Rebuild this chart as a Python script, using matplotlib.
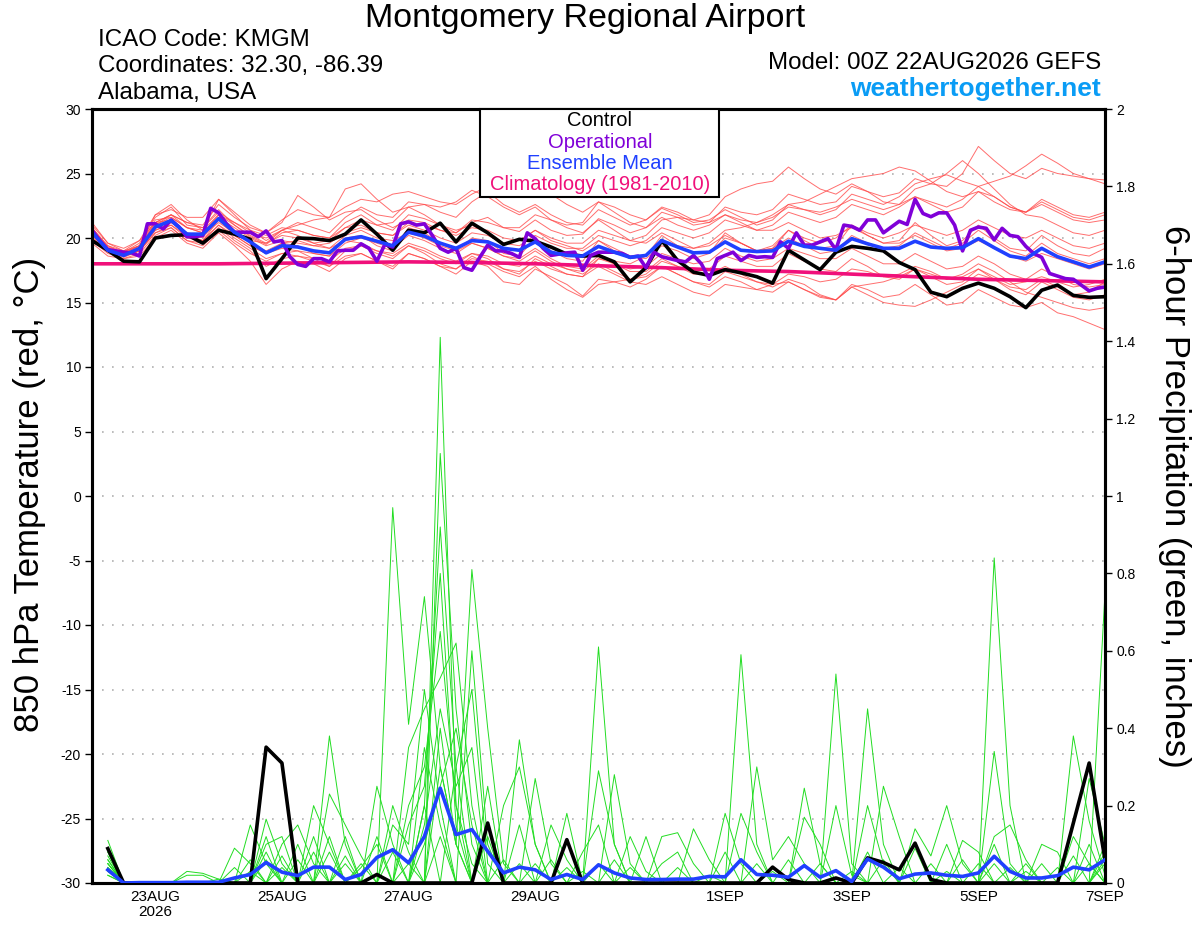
import numpy as np
import matplotlib
matplotlib.use("Agg")
import matplotlib.pyplot as plt
from matplotlib.patches import Rectangle

plt.rcParams['font.family'] = ['Liberation Sans', 'DejaVu Sans']
plt.rcParams['axes.unicode_minus'] = False

# time axis: days after 22AUG2026 00Z, 6-hourly (operational is 3-hourly)
tick_days = [1, 3, 5, 7, 10, 12, 14, 16]
tick_labels = ["23AUG\n2026", "25AUG", "27AUG", "29AUG", "1SEP", "3SEP", "5SEP", "7SEP"]

# 850 hPa temperature, 6-hourly, i = 0..64
control_temp = [19.8, 19.05, 18.2, 18.15, 20.0, 20.2, 20.25, 19.6, 20.6, 20.3, 19.9, 16.85, 18.4,
                20.0, 19.95, 19.8, 20.3, 21.4, 20.3, 19.05, 20.6, 20.4, 21.15, 19.7, 21.15, 20.4,
                19.5, 19.9, 19.75, 19.3, 18.75, 18.6, 18.65, 18.15, 16.6, 17.7, 19.8, 18.25, 17.35,
                17.1, 17.55, 17.3, 17.0, 16.5, 19.05, 18.3, 17.55, 18.9, 19.35, 19.2, 19.0, 18.1,
                17.55, 15.8, 15.45, 16.1, 16.5, 16.1, 15.45, 14.6, 15.95, 16.35, 15.55, 15.4, 15.45]

mean_temp = [20.45, 19.05, 18.65, 19.2, 20.85, 21.35, 20.3, 20.3, 21.5, 20.45, 19.7, 18.85, 19.4,
             19.3, 19.0, 18.85, 19.9, 20.1, 19.75, 19.4, 20.45, 20.15, 19.6, 19.2, 19.8, 19.7,
             19.2, 19.05, 19.7, 18.9, 18.65, 18.6, 19.35, 18.9, 18.5, 18.65, 19.8, 19.3, 18.85,
             18.9, 19.7, 19.05, 18.95, 19.0, 19.75, 19.35, 19.2, 19.05, 19.95, 19.55, 19.2, 19.2,
             19.75, 19.3, 19.2, 19.25, 19.95, 19.25, 18.6, 18.4, 19.2, 18.55, 18.15, 17.75, 18.15]

# operational, 3-hourly, j = 0..128
oper_temp = [20.6, 19.8, 19.1, 19.0, 18.9, 18.85, 18.6, 21.1, 21.1, 20.7,
             21.4, 20.85, 20.1, 20.1, 20.2, 22.3, 21.95, 21.1, 20.45, 20.45,
             20.45, 20.1, 20.55, 19.7, 19.8, 18.55, 17.95, 17.8, 18.4, 18.4,
             18.15, 19.0, 19.05, 19.05, 19.55, 19.2, 18.2, 19.5, 19.3, 21.1,
             21.25, 21.0, 21.1, 20.2, 19.2, 18.9, 19.2, 17.7, 17.5, 18.5,
             19.45, 19.0, 19.0, 18.8, 18.5, 20.4, 19.95, 19.2, 18.65, 18.75,
             18.85, 18.9, 17.5, 18.65, 18.9, 18.9, 18.9, 18.8, 18.5, 18.6,
             17.7, 18.9, 18.55, 18.4, 18.25, 18.15, 18.65, 18.0, 16.8, 18.4,
             18.65, 18.9, 18.25, 18.65, 18.5, 18.55, 18.5, 19.7, 19.2, 20.4,
             19.45, 19.45, 19.7, 19.95, 19.1, 21.0, 20.9, 20.6, 21.4, 21.4,
             20.4, 20.85, 21.3, 21.05, 23.0, 21.9, 21.65, 21.95, 21.95, 21.0,
             19.0, 20.6, 20.85, 20.75, 19.85, 20.75, 20.2, 20.1, 19.35, 18.8,
             18.5, 17.25, 17.05, 16.85, 16.8, 16.35, 15.9, 16.1, 16.2]

# climatology (1981-2010), daily values, day 0..16
clim_temp = [18.0, 18.0, 18.0, 18.05, 18.1, 18.15, 18.1, 18.0, 17.85, 17.7, 17.5, 17.4,
             17.2, 17.0, 16.8, 16.7, 16.6]

# ensemble members, 850 hPa temperature, i = 0..64
member_temp = [
    [20.8, 19.3, 18.9, 19.6, 21.6, 22.4, 21.0, 20.8, 22.2, 21.0, 20.1, 19.5, 20.4, 20.6, 20.2, 20.0,
     21.2, 21.8, 21.0, 20.6, 21.8, 21.5, 21.0, 20.4, 21.2, 21.6, 20.8, 20.5, 21.4, 20.6, 20.2, 20.3,
     21.5, 21.0, 20.4, 20.8, 22.0, 21.6, 21.0, 21.2, 22.4, 22.0, 21.8, 22.2, 23.4, 23.0, 22.6, 22.8,
     24.0, 23.6, 23.2, 23.5, 24.6, 24.2, 24.0, 25.0, 27.1, 26.0, 25.0, 24.6, 25.4, 25.0, 24.8, 24.6, 24.5],
    [21.2, 19.6, 19.0, 19.8, 21.2, 21.8, 21.2, 21.0, 22.6, 21.6, 20.8, 20.4, 21.4, 22.2, 21.8, 21.6,
     23.8, 24.2, 23.0, 22.0, 22.4, 21.8, 21.0, 20.6, 21.0, 20.4, 19.6, 19.8, 20.6, 19.8, 19.4, 19.0,
     19.8, 19.2, 18.6, 18.4, 19.4, 19.0, 18.4, 18.8, 20.0, 19.6, 19.0, 19.4, 20.6, 20.0, 19.6, 20.0,
     21.0, 20.4, 20.0, 20.4, 21.0, 20.6, 20.2, 20.6, 21.4, 20.8, 20.2, 20.0, 20.6, 20.0, 19.4, 19.2, 19.6],
    [19.8, 18.8, 18.4, 18.6, 20.0, 20.6, 19.6, 19.2, 20.4, 19.4, 18.2, 16.4, 17.6, 18.2, 18.0, 17.4,
     18.4, 18.8, 18.2, 17.6, 18.8, 18.4, 17.8, 17.2, 18.2, 17.8, 16.6, 16.4, 17.6, 17.0, 16.4, 15.5,
     16.8, 16.6, 16.2, 16.8, 17.8, 17.2, 16.6, 16.4, 17.4, 17.0, 16.6, 16.2, 16.8, 16.4, 15.6, 15.2,
     16.4, 16.0, 15.4, 15.6, 16.4, 15.6, 14.8, 15.0, 16.0, 15.4, 14.8, 14.6, 15.0, 14.2, 13.9, 13.4, 12.9],
    [20.2, 19.2, 18.8, 19.4, 21.8, 22.6, 21.4, 20.6, 23.0, 21.8, 20.6, 19.8, 20.6, 21.2, 20.8, 20.4,
     21.6, 22.4, 21.8, 21.6, 22.8, 22.6, 22.0, 21.6, 22.8, 23.6, 22.6, 22.0, 22.6, 21.8, 21.2, 21.0,
     22.2, 21.6, 21.0, 21.4, 22.4, 22.0, 21.4, 21.8, 23.2, 23.8, 24.2, 24.4, 25.5, 24.6, 23.8, 23.4,
     24.2, 23.6, 22.8, 22.6, 23.2, 22.6, 22.0, 22.4, 23.6, 23.2, 22.4, 22.0, 22.6, 22.0, 21.4, 21.2, 21.4],
    [20.0, 18.9, 18.5, 19.0, 20.4, 20.8, 19.8, 19.6, 20.8, 19.8, 19.0, 17.8, 18.4, 18.6, 18.2, 17.8,
     19.0, 19.4, 18.8, 18.4, 19.4, 18.8, 18.0, 17.6, 18.6, 18.0, 17.4, 17.0, 17.8, 16.8, 16.0, 15.4,
     16.4, 16.6, 16.8, 17.2, 18.2, 17.8, 17.4, 17.6, 18.6, 18.2, 17.8, 17.8, 18.8, 18.2, 17.6, 17.4,
     18.4, 17.8, 17.0, 16.8, 17.6, 17.0, 16.4, 16.6, 17.6, 16.8, 16.0, 15.6, 16.6, 16.0, 15.4, 15.2, 15.6],
    [20.6, 19.4, 19.0, 19.4, 21.0, 21.6, 20.8, 20.6, 21.8, 21.0, 20.2, 19.6, 20.2, 20.0, 19.6, 19.8,
     20.8, 21.4, 21.0, 21.2, 22.4, 22.6, 22.4, 22.8, 23.7, 23.2, 22.4, 21.8, 22.4, 21.4, 20.8, 20.4,
     21.4, 20.6, 19.8, 19.6, 20.4, 19.8, 19.2, 19.4, 20.2, 19.6, 19.0, 19.2, 20.0, 19.4, 18.8, 19.0,
     20.2, 19.6, 19.2, 19.4, 20.4, 19.8, 19.2, 19.6, 20.6, 19.8, 19.0, 18.6, 19.6, 18.8, 18.4, 18.0, 18.4],
    [20.4, 19.0, 18.6, 19.0, 20.6, 21.2, 20.4, 20.2, 21.2, 20.4, 19.8, 19.6, 20.6, 21.0, 21.4, 21.6,
     22.4, 23.0, 22.8, 23.4, 23.6, 23.2, 22.8, 22.6, 23.4, 24.0, 24.3, 23.6, 24.2, 23.4, 22.6, 22.0,
     22.8, 22.0, 21.2, 20.8, 21.6, 21.0, 20.6, 21.0, 21.8, 21.4, 21.2, 21.8, 22.6, 22.8, 23.4, 24.0,
     24.6, 24.8, 25.0, 25.5, 25.2, 24.4, 23.6, 23.2, 23.6, 22.8, 22.2, 22.0, 22.8, 22.2, 21.6, 21.4, 21.8],
    [20.2, 19.0, 18.6, 19.0, 20.6, 21.0, 20.0, 19.8, 21.0, 20.0, 19.2, 18.4, 18.8, 18.6, 18.4, 18.2,
     19.2, 19.4, 19.0, 18.8, 19.6, 19.2, 18.6, 18.2, 18.8, 18.6, 18.0, 17.8, 18.6, 18.0, 17.6, 17.4,
     18.4, 18.0, 17.6, 17.8, 18.8, 18.4, 18.0, 18.2, 19.2, 18.6, 18.2, 18.4, 19.2, 18.8, 18.4, 18.4,
     19.2, 18.6, 18.0, 18.0, 18.8, 18.2, 17.6, 17.8, 18.6, 18.0, 17.2, 16.8, 17.6, 17.0, 16.4, 16.2, 16.4],
    [20.6, 19.2, 18.8, 19.2, 21.2, 21.8, 20.8, 20.4, 21.6, 20.8, 20.0, 19.4, 19.8, 19.6, 19.4, 19.6,
     20.4, 20.8, 20.4, 20.2, 21.0, 20.6, 20.0, 19.6, 20.4, 20.2, 19.6, 19.4, 20.2, 19.6, 19.2, 19.2,
     20.2, 19.8, 19.4, 19.8, 20.8, 20.4, 20.0, 20.4, 21.4, 21.0, 20.6, 21.0, 22.0, 21.6, 21.2, 21.6,
     22.6, 22.2, 21.8, 22.4, 23.2, 22.8, 22.4, 23.0, 24.0, 24.4, 24.8, 25.6, 26.5, 25.8, 25.0, 24.6, 24.2],
    [19.6, 18.6, 18.4, 18.8, 20.2, 20.8, 19.8, 19.4, 20.6, 19.6, 18.8, 18.2, 18.8, 19.0, 18.8, 18.6,
     19.6, 20.0, 19.6, 19.2, 20.2, 19.8, 19.2, 18.8, 19.6, 19.2, 18.6, 18.2, 19.0, 18.2, 17.6, 17.2,
     18.0, 17.4, 16.8, 17.0, 17.8, 17.2, 16.6, 16.2, 17.0, 16.6, 16.0, 15.8, 16.6, 16.0, 15.4, 15.2,
     16.2, 15.6, 15.0, 14.8, 14.7, 15.2, 15.8, 16.4, 17.2, 16.8, 16.2, 16.0, 16.8, 16.2, 15.6, 15.8, 16.6],
    [20.4, 19.2, 18.9, 19.4, 21.2, 21.4, 20.2, 19.8, 21.4, 20.2, 19.4, 18.8, 19.6, 19.4, 18.8, 18.6,
     20.0, 20.2, 19.4, 19.0, 20.8, 20.4, 19.6, 19.0, 20.0, 19.8, 18.8, 18.6, 20.0, 19.0, 18.4, 18.2,
     19.8, 19.0, 18.4, 18.6, 20.2, 19.4, 18.8, 18.8, 20.4, 19.6, 19.0, 19.2, 20.6, 19.8, 19.2, 19.4,
     21.0, 20.2, 19.6, 19.8, 21.2, 20.2, 19.4, 19.8, 21.0, 20.0, 19.2, 19.0, 20.2, 19.4, 18.8, 18.6, 19.2],
    [20.0, 19.0, 18.7, 19.2, 21.0, 21.8, 21.2, 20.8, 22.0, 21.2, 20.4, 20.0, 20.6, 20.2, 19.6, 19.2,
     19.8, 19.6, 19.0, 18.6, 19.4, 19.0, 18.4, 18.0, 18.8, 18.4, 17.6, 17.2, 18.4, 17.8, 17.2, 17.0,
     18.4, 18.2, 18.0, 18.6, 19.6, 19.4, 19.2, 19.6, 20.6, 20.8, 21.2, 21.6, 22.4, 22.2, 22.0, 22.4,
     23.0, 22.6, 22.2, 22.6, 23.8, 24.2, 25.0, 26.0, 25.0, 23.8, 22.6, 21.8, 21.6, 21.0, 20.4, 20.2, 20.6],
    [20.2, 19.0, 18.6, 19.0, 20.4, 21.0, 20.2, 19.8, 21.0, 20.2, 19.4, 18.8, 19.2, 19.0, 18.4, 17.8,
     18.6, 18.8, 18.2, 17.8, 18.8, 18.4, 17.8, 17.6, 18.4, 18.2, 17.6, 17.4, 18.2, 17.6, 17.2, 17.0,
     17.8, 17.2, 16.6, 16.4, 17.0, 16.4, 15.8, 15.5, 16.4, 16.2, 16.0, 16.4, 17.2, 17.0, 16.6, 16.8,
     17.6, 17.4, 17.0, 17.2, 17.8, 17.4, 16.8, 17.0, 17.6, 17.0, 16.4, 16.6, 17.0, 16.6, 16.2, 16.4, 16.8],
    [21.0, 19.6, 19.2, 19.8, 21.8, 22.2, 21.6, 21.6, 23.0, 22.0, 21.0, 20.4, 21.2, 23.3, 22.4, 21.4,
     22.0, 22.2, 21.4, 20.8, 21.4, 21.2, 20.6, 20.2, 20.8, 20.6, 20.0, 19.8, 20.6, 20.0, 19.6, 19.6,
     20.6, 20.2, 19.8, 20.2, 21.4, 21.6, 21.4, 21.2, 21.8, 21.2, 20.6, 20.6, 21.2, 20.6, 20.0, 20.2,
     20.8, 20.2, 19.6, 19.6, 20.2, 19.6, 19.0, 19.2, 19.8, 19.2, 18.6, 18.2, 18.8, 18.4, 18.0, 17.6, 18.0],
    [20.4, 19.1, 18.7, 19.1, 20.8, 21.2, 20.4, 20.0, 21.6, 20.6, 19.6, 19.0, 19.6, 19.8, 19.4, 19.2,
     20.2, 20.6, 20.0, 19.8, 20.4, 20.0, 19.4, 19.0, 19.6, 19.2, 18.6, 18.4, 19.2, 18.4, 17.8, 17.6,
     18.6, 18.0, 17.4, 17.4, 18.4, 17.8, 17.2, 17.2, 17.8, 17.2, 16.6, 16.4, 16.6, 16.0, 15.5, 15.2,
     16.2, 16.4, 16.6, 17.0, 17.6, 17.2, 16.8, 17.2, 18.0, 17.4, 16.6, 15.8, 15.4, 15.0, 14.6, 14.4, 14.6],
    [20.8, 19.4, 18.8, 19.4, 21.4, 21.6, 20.8, 20.4, 21.8, 21.2, 20.6, 20.2, 20.8, 20.6, 20.2, 20.0,
     20.8, 21.0, 20.4, 20.2, 21.2, 21.0, 20.6, 20.4, 21.4, 21.2, 20.8, 20.8, 21.8, 21.4, 21.0, 21.2,
     22.8, 22.4, 21.8, 21.4, 22.3, 21.8, 21.2, 21.4, 22.2, 21.6, 21.0, 21.4, 22.6, 22.2, 21.8, 22.2,
     23.4, 23.0, 22.6, 23.2, 24.2, 24.6, 24.9, 24.4, 24.0, 23.2, 22.4, 22.0, 23.0, 22.4, 21.8, 21.6, 22.0],
]

# 6-hour precipitation (inches), i = 1..64
control_precip = [0.089, 0, 0, 0, 0, 0, 0, 0, 0, 0, 0.351, 0.31, 0, 0, 0, 0,
                  0, 0.022, 0, 0, 0, 0, 0, 0, 0.155, 0, 0, 0, 0, 0.112, 0, 0,
                  0, 0, 0, 0, 0, 0, 0, 0, 0, 0, 0.041, 0.009, 0, 0, 0.013, 0,
                  0.065, 0.053, 0.034, 0.103, 0.009, 0, 0, 0, 0, 0, 0, 0, 0, 0.155, 0.31, 0.06]

mean_precip = [0.034, 0, 0.001, 0.001, 0.001, 0.002, 0.002, 0.002, 0.013, 0.022, 0.053, 0.028,
               0.019, 0.041, 0.041, 0.009, 0.022, 0.066, 0.086, 0.052, 0.12, 0.245, 0.125, 0.138,
               0.082, 0.026, 0.041, 0.034, 0.009, 0.022, 0.009, 0.047, 0.026, 0.013, 0.009, 0.009,
               0.010, 0.010, 0.017, 0.016, 0.060, 0.022, 0.020, 0.015, 0.045, 0.015, 0.032, 0.004,
               0.062, 0.041, 0.011, 0.023, 0.026, 0.020, 0.017, 0.026, 0.069, 0.030, 0.013, 0.013,
               0.019, 0.041, 0.034, 0.060]

member_precip = [
    [.05, 0, 0, 0, 0, 0, 0, 0, 0, 0, .12, 0, 0, 0, .38, .1, 0, 0, .97, .41, .74, .3, .1, 0,
     0, 0, .37, .1, 0, 0, 0, .05, 0, 0, 0, 0, 0, 0, 0, 0, .59, .1, 0, 0, 0, 0, 0, 0,
     0, 0, 0, 0, 0, 0, 0, 0, .84, .2, 0, 0, 0, 0, 0, .1],
    [.11, 0, 0, 0, 0, 0, 0, 0, 0, .15, .05, 0, 0, 0, 0, 0, 0, 0, 0, 0, 0, 1.41, .2, .05,
     0, 0, 0, 0, 0, .18, 0, .61, .1, 0, 0, 0, 0, 0, 0, 0, 0, 0, 0, 0, .245, .05, 0, 0,
     0, 0, 0, 0, 0, 0, 0, 0, 0, 0, 0, 0, 0, .38, .16, .02],
    [.08, 0, 0, 0, 0, 0, 0, 0, 0, 0, 0, .1, .15, .05, 0, 0, 0, .25, .1, 0, 0, 1.11, .45, .1,
     0, 0, 0, .27, .05, 0, 0, 0, 0, 0, 0, 0, 0, 0, 0, 0, 0, 0, 0, 0, 0, 0, .54, .05,
     0, 0, 0, 0, 0, 0, 0, 0, 0, 0, 0, 0, 0, 0, 0, .75],
    [.03, 0, 0, 0, 0, 0, 0, 0, .09, .05, 0, 0, 0, .2, .1, 0, 0, 0, 0, 0, .2, .92, .3, 0,
     .25, 0, 0, 0, 0, 0, 0, 0, .28, .05, 0, 0, 0, 0, 0, 0, 0, 0, 0, 0, 0, 0, 0, 0,
     .45, .1, 0, 0, 0, 0, 0, 0, 0, 0, 0, 0, 0, 0, .05, 0],
    [.06, 0, 0, 0, 0, .03, .025, .01, 0, 0, .165, .05, 0, 0, 0, 0, 0, 0, 0, .35, .45, .53, .62, .2,
     0, 0, 0, 0, 0, 0, 0, .29, .1, 0, 0, 0, 0, 0, 0, .18, .05, 0, 0, 0, 0, 0, 0, 0,
     0, 0, 0, 0, 0, 0, 0, 0, .34, .05, 0, 0, 0, 0, 0, 0],
    [.02, 0, 0, 0, 0, 0, 0, 0, 0, 0, 0, 0, 0, 0, .23, .15, .07, 0, 0, 0, 0, .3, .1, .81,
     .4, .05, 0, 0, 0, 0, 0, 0, 0, 0, 0, .12, .13, .05, 0, 0, 0, 0, 0, 0, 0, 0, 0, 0,
     0, 0, 0, .14, .07, .2, .05, 0, 0, 0, 0, 0, 0, 0, 0, 0],
    [.04, 0, 0, 0, 0, 0, 0, 0, 0, 0, 0, 0, .06, 0, 0, .05, 0, 0, .15, .1, .5, .2, 0, 0,
     0, .2, .3, .1, 0, 0, 0, 0, 0, .12, .03, 0, 0, 0, 0, 0, 0, .3, .06, .12, .05, 0, 0, 0,
     0, 0, 0, 0, 0, 0, 0, 0, 0, 0, 0, .1, .08, 0, 0, 0],
    [.07, 0, 0, 0, 0, .02, .02, 0, 0, 0, .1, .12, 0, 0, 0, 0, 0, .12, 0, 0, .15, .45, .25, .35,
     0, 0, 0, 0, .15, .06, 0, 0, 0, 0, 0, 0, 0, .14, .06, 0, 0, 0, 0, 0, 0, 0, 0, 0,
     0, .25, .12, 0, 0, 0, 0, 0, .12, .15, .06, 0, 0, 0, 0, 0],
    [.05, 0, 0, 0, 0, 0, 0, 0, 0, .06, 0, 0, 0, .08, 0, 0, .05, 0, 0, .2, .3, .65, .2, 0,
     0, 0, 0, 0, 0, 0, .08, .15, 0, 0, 0, 0, 0, 0, 0, 0, .18, .08, 0, 0, 0, 0, .2, .02,
     0, 0, 0, 0, 0, 0, .11, .08, 0, 0, 0, 0, 0, 0, .27, .1],
    [.03, 0, 0, 0, 0, 0, 0, 0, 0, 0, 0, .07, 0, 0, 0, .12, 0, 0, 0, 0, .1, .25, .4, .15,
     0, 0, 0, 0, 0, 0, 0, 0, .06, 0, .12, 0, 0, 0, 0, 0, 0, 0, 0, 0, .17, .1, 0, 0,
     .2, .05, 0, 0, 0, .1, 0, 0, 0, 0, 0, 0, 0, .12, .05, 0],
    [.09, 0, 0, 0, 0, 0, 0, 0, .04, 0, 0, 0, .1, 0, .08, 0, 0, 0, .2, .08, 0, 0, 0, 0,
     .12, 0, .15, 0, 0, 0, 0, 0, 0, 0, 0, .05, .08, 0, 0, 0, 0, 0, .03, 0, 0, 0, 0, 0,
     0, 0, 0, .09, 0, 0, 0, 0, .1, 0, 0, 0, .04, 0, 0, .05],
    [.05, 0, 0, 0, 0, 0, 0, 0, 0, 0, .08, 0, 0, .12, 0, 0, 0, 0, 0, .15, .25, .8, .15, 0,
     0, .06, 0, 0, 0, .04, 0, 0, 0, 0, 0, 0, 0, 0, 0, .08, 0, 0, 0, 0, 0, 0, 0, 0,
     0, 0, .04, 0, 0, 0, 0, .05, 0, 0, .03, 0, 0, 0, 0, .06],
    [.04, 0, 0, 0, 0, 0, 0, 0, 0, .03, 0, 0, 0, 0, 0, 0, .04, .1, 0, 0, 0, .12, 0, .6,
     .1, 0, 0, .05, 0, 0, 0, 0, 0, .04, 0, 0, 0, 0, 0, 0, 0, 0, 0, .06, 0, 0, 0, 0,
     0, 0, 0, 0, .05, 0, 0, 0, 0, .04, 0, 0, 0, .07, 0, 0],
    [.06, 0, 0, 0, 0, 0, 0, .01, 0, 0, 0, .04, 0, 0, 0, 0, 0, 0, .08, 0, .35, .15, 0, 0,
     0, 0, .05, 0, 0, 0, 0, 0, 0, 0, 0, 0, 0, 0, .02, 0, 0, 0, 0, 0, 0, .05, 0, .03,
     0, 0, 0, 0, 0, 0, .06, 0, 0, 0, 0, .05, 0, 0, 0, 0],
    [.02, 0, 0, 0, 0, 0, 0, 0, 0, 0, .06, 0, 0, 0, .12, 0, 0, 0, 0, .05, 0, .4, .1, 0,
     0, 0, 0, 0, 0, 0, .03, 0, 0, 0, 0, 0, .04, 0, 0, 0, 0, 0, 0, 0, 0, 0, 0, 0,
     .08, 0, 0, 0, 0, .03, 0, 0, 0, 0, .05, 0, 0, 0, .1, 0],
    [.08, 0, 0, 0, 0, 0, 0, 0, 0, 0, 0, 0, 0, 0, 0, .07, 0, 0, 0, 0, .2, 0, .3, .5,
     .05, 0, 0, 0, .06, 0, 0, 0, 0, 0, 0, 0, 0, 0, 0, 0, 0, .05, 0, 0, 0, 0, 0, 0,
     0, .06, 0, 0, 0, 0, 0, 0, .05, 0, 0, 0, 0, 0, 0, .08],
]

t6 = np.arange(len(control_temp)) * 0.25
t3 = np.arange(len(oper_temp)) * 0.125
tday = np.arange(len(clim_temp))
tp = np.arange(1, len(control_precip) + 1) * 0.25

fig = plt.figure(figsize=(12, 9.27), dpi=100)
ax = fig.add_axes([92 / 1200, 44 / 927, 1013 / 1200, 774 / 927])
ax2 = ax.twinx()

for grid_y in range(-25, 30, 5):
    ax.axhline(grid_y, color='#b0b0b0', lw=1.2, ls=(0, (1, 5)), zorder=0)

for m in member_temp:
    ax.plot(t6, m, color='#ff4a4a', lw=0.7, alpha=0.8, zorder=1)
ax.plot(tday, clim_temp, color='#f0107a', lw=2.6, zorder=2)
ax.plot(t6, control_temp, color='black', lw=2.6, zorder=3)
ax.plot(t3, oper_temp, color='#8000d8', lw=2.6, zorder=4)
ax.plot(t6, mean_temp, color='#2040ff', lw=2.6, zorder=5)

for m in member_precip:
    ax2.plot(tp, m, color='#22dd22', lw=0.7, zorder=1)
ax2.plot(tp, control_precip, color='black', lw=2.6, zorder=3)
ax2.plot(tp, mean_precip, color='#2040ff', lw=2.6, zorder=5)

ax.set_xlim(0, 16)
ax.set_ylim(-30, 30)
ax2.set_ylim(0, 2)
ax.set_yticks(range(-30, 31, 5))
ax2.set_yticks(np.arange(0, 2.01, 0.2))
ax2.set_yticklabels([f"{v:g}" for v in np.arange(0, 2.01, 0.2)])
ax.set_xticks(tick_days)
ax.set_xticklabels(tick_labels, fontsize=11, linespacing=1.1)
ax.tick_params(axis='x', length=0, pad=5)
ax.tick_params(axis='y', labelsize=10, length=5, width=1, direction='out', pad=3)
ax2.tick_params(axis='y', labelsize=10, length=5, width=1, direction='out', pad=3)
for a in (ax, ax2):
    for s in a.spines.values():
        s.set_linewidth(2.2)

fig.text(30 / 1200, 1 - 494 / 927, "850 hPa Temperature (red, °C)", rotation=90,
         ha='center', va='center', fontsize=25)
fig.text(1174 / 1200, 1 - 496 / 927, "6-hour Precipitation (green, inches)", rotation=270,
         ha='center', va='center', fontsize=25)

fig.text(585 / 1200, 1 - 18 / 927, "Montgomery Regional Airport", ha='center', va='center',
         fontsize=24.5)
fig.text(98 / 1200, 1 - 40 / 927, "ICAO Code: KMGM", ha='left', va='center', fontsize=17.4)
fig.text(98 / 1200, 1 - 66 / 927, "Coordinates: 32.30, -86.39", ha='left', va='center', fontsize=17.4)
fig.text(98 / 1200, 1 - 93 / 927, "Alabama, USA", ha='left', va='center', fontsize=17.4)
fig.text(1101 / 1200, 1 - 63 / 927, "Model: 00Z 22AUG2026 GEFS", ha='right', va='center',
         fontsize=17.4)
fig.text(1101 / 1200, 1 - 89 / 927, "weathertogether.net", ha='right', va='center',
         fontsize=19, fontweight='bold', color='#0a9cf5')

# legend box
ax2.add_patch(Rectangle((480 / 1200, 1 - 197 / 927), 239 / 1200, 88 / 927,
                        transform=fig.transFigure, facecolor='white', edgecolor='black',
                        lw=1.5, zorder=10, clip_on=False))
legend_items = [("Control", 'black'), ("Operational", '#8000d8'),
                ("Ensemble Mean", '#2040ff'), ("Climatology (1981-2010)", '#f0107a')]
for k, (name, col) in enumerate(legend_items):
    ax2.text(600 / 1200, 1 - (121 + 21.3 * k) / 927, name, transform=fig.transFigure,
             ha='center', va='center', fontsize=14.5, color=col, zorder=11)

fig.savefig("out.png", dpi=100)
